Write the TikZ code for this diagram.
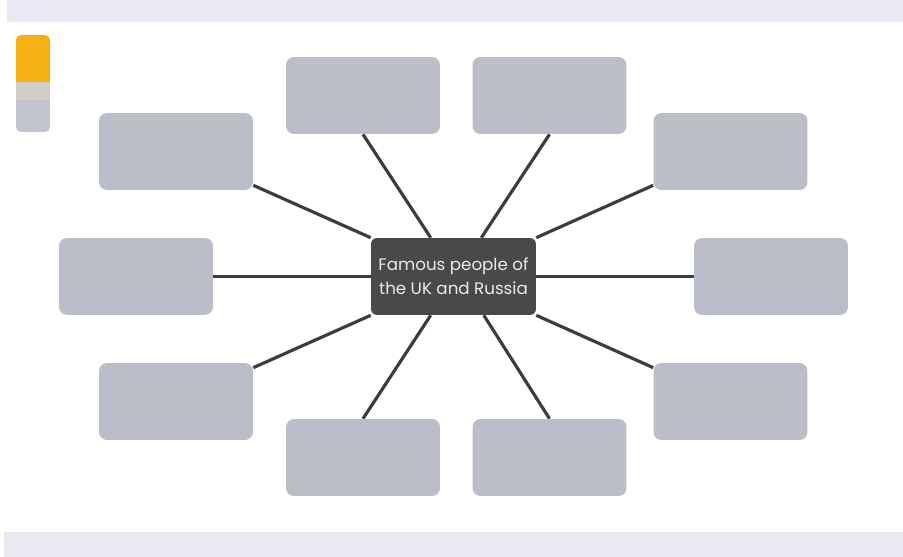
\documentclass[tikz,border=0pt]{standalone}
\usepackage{fontspec}
\setmainfont{Poppins}
\usetikzlibrary{backgrounds}
\definecolor{boxgray}{HTML}{BBBEC9}
\definecolor{hubgray}{HTML}{4A4848}
\definecolor{spokegray}{HTML}{3C3C3C}
\definecolor{bandgray}{HTML}{E9E9F1}
\definecolor{tabyellow}{HTML}{F7B012}
\definecolor{tabmid}{HTML}{D2CEC6}
\tikzset{
    blank/.style={fill=boxgray, rounded corners=0.16cm, minimum width=3.08cm, minimum height=1.54cm, inner sep=0pt},
    hub/.style={fill=hubgray, rounded corners=0.12cm, minimum width=3.3cm, minimum height=1.54cm, inner sep=0pt,
        text=white!92!black, align=center, font=\fontsize{9.5}{13.5}\selectfont},
    spoke/.style={spokegray, line width=1.8pt}
}
\begin{document}
\begin{tikzpicture}[x=0.02cm, y=-0.02cm]
    \useasboundingbox(0,0) rectangle (903,557);
    % tab in the corner
    \begin{scope}
        \clip[rounded corners=0.1cm](16,35) rectangle (50,132);
        \fill[tabyellow](16,35) rectangle (50,82);
        \fill[tabmid](16,82) rectangle (50,100);
        \fill[boxgray!90!white](16,100) rectangle (50,132);
    \end{scope}
    \node[hub](hub) at (453.5,276.5) {Famous people of\\the UK and Russia};
    \foreach \x/\y/\name in {363/95.5/tl, 549.5/95.5/tr, 176/151.5/ul, 730.5/151.5/ur,
        136/276.5/l, 771/276.5/r, 176/401.5/ll, 730.5/401.5/lr, 363/457.5/bl, 549.5/457.5/br}
    {
        \node[blank](\name) at (\x,\y) {};
    }
    \begin{scope}[on background layer]
        \fill[white](0,0) rectangle (903,557);
        \fill[bandgray](7,0) rectangle (903,22);
        \fill[bandgray](4,532) rectangle (903,557);
        \draw[spoke](tl.south)--([xshift=1.2cm]hub.north west);
        \draw[spoke](tr.south)--([xshift=-1.1cm]hub.north east);
        \draw[spoke]([yshift=0.1cm]ul.south east)--(hub.north west);
        \draw[spoke]([yshift=0.1cm]ur.south west)--(hub.north east);
        \draw[spoke](l)--(hub);
        \draw[spoke](r)--(hub);
        \draw[spoke]([yshift=-0.1cm]ll.north east)--(hub.south west);
        \draw[spoke]([yshift=-0.1cm]lr.north west)--(hub.south east);
        \draw[spoke](bl.north)--([xshift=1.2cm]hub.south west);
        \draw[spoke](br.north)--([xshift=-1.05cm]hub.south east);
    \end{scope}
\end{tikzpicture}
\end{document}
